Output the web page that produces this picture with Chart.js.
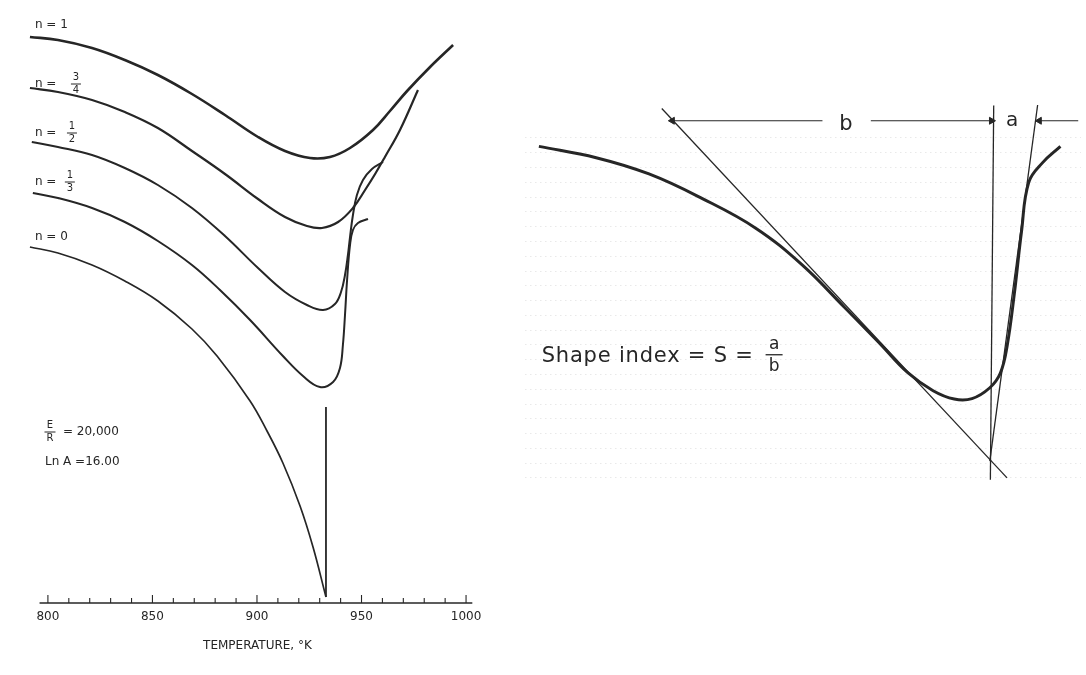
<!DOCTYPE html>
<html>
<head>
<meta charset="utf-8">
<script src="https://cdn.jsdelivr.net/npm/chart.js@4.4.1/dist/chart.umd.min.js"></script>
<style>
html, body { margin:0; padding:0; background:#fff; }
#wrap { position:relative; width:1086px; height:675px; overflow:hidden; background:#fff; }
#left { position:absolute; left:0; top:0; }
#right { position:absolute; left:520px; top:0; }
</style>
</head>
<body>
<div id="wrap">
  <canvas id="left" width="510" height="675"></canvas>
  <canvas id="right" width="566" height="675"></canvas>
</div>
<script>
// ---- left panel: DTA curves, temperature (K) vs deflection (arbitrary units)
const tempN1  = [791.4,804.8,821.1,836.8,852.6,868.9,884.7,900.5,913.4,925.4,934.9,944.5,955.5,963.6,971.8,982.8,993.8];
const defN1   = [56.6,56.3,55.5,54.3,52.8,50.9,48.8,46.6,45.2,44.5,44.6,45.5,47.3,49.2,51.2,53.6,55.8];

const tempN34 = [791.4,804.8,821.1,836.8,852.6,868.9,884.7,900.5,913.4,923.9,931.1,938.8,945.9,951.7,956.5,961.2,968.4,977.0];
const defN34  = [51.5,51.1,50.3,49.1,47.5,45.2,42.9,40.4,38.6,37.7,37.5,38.1,39.5,41.3,42.9,44.6,47.3,51.3];

const tempN12 = [792.3,804.8,821.1,836.8,852.6,868.9,884.7,900.5,913.4,923.9,931.6,937.3,940.2,942.1,943.5,944.5,945.9,947.8,950.7,955.0,960.3];
const defN12  = [46.1,45.6,44.8,43.5,41.8,39.5,36.7,33.5,31.1,29.8,29.3,29.9,31.1,32.8,34.8,36.6,38.8,40.8,42.3,43.4,44.1];

const tempN13 = [792.8,804.8,821.1,836.8,852.6,868.9,882.3,896.7,912.4,922.0,930.1,936.4,939.7,941.1,942.1,943.1,944.5,945.9,948.3,953.1];
const defN13  = [41.0,40.5,39.5,38.1,36.2,33.8,31.3,28.3,24.7,22.7,21.6,22.1,23.5,25.8,28.8,32.3,35.8,37.3,38.0,38.4];

const tempN0  = [791.4,804.8,821.1,836.8,852.6,868.9,880.9,896.7,904.8,912.4,920.6,926.8,933.0];
const defN0   = [35.6,35.0,33.8,32.2,30.2,27.4,24.7,20.2,17.2,14.0,9.7,5.6,0.6];
const tempJump = [933.0,933.0];
const defJump  = [0.6,19.6];

const tempTicks = [800,810,820,830,840,850,860,870,880,890,900,910,920,930,940,950,960,970,980,990,1000];
const axisSpan  = [796,1003];

// ---- right panel: shape index sketch (arbitrary units)
const curveX = [2.5,12.8,22.3,31.9,41.5,49.8,57.4,63.8,68.9,73.4,77.2,80.4,83.6,85.5,86.7,88.0,89.3,90.6,93.1,96.3];
const curveY = [71.3,69.0,65.7,60.7,54.7,47.3,38.7,31.3,25.3,21.7,20.0,20.1,22.3,25.3,30.7,41.3,54.0,64.0,68.0,71.3];
const tanLeftX  = [24.6,86.7],  tanLeftY  = [79.0,4.0];
const tanRightX = [92.2,83.6],  tanRightY = [79.7,7.4];
const vertX     = [84.3,83.7],  vertY     = [79.6,3.6];
const bLeftX  = [26.5,53.5], bRightX = [83.9,62.2], aArrowX = [92.5,99.5];
const dimY    = [76.5,76.5];

const INK = "#262626";
const FONT = "DejaVu Sans";

const pts = (xs, ys) => xs.map((x, i) => ({ x, y: ys[i] }));

function curve(label, xs, ys, w) {
  return { label, data: pts(xs, ys), borderColor: INK, borderWidth: w, pointRadius: 0,
           tension: 0.4, fill: false };
}

function text(ctx, s, px, py, size, align, spacing) {
  ctx.font = size + "px '" + FONT + "'";
  ctx.letterSpacing = (spacing || 0) + "px";
  ctx.textAlign = align || "left";
  ctx.textBaseline = "middle";
  ctx.fillText(s, px, py);
  ctx.letterSpacing = "0px";
}

function fraction(ctx, num, den, px, py, size, w) {
  text(ctx, num, px, py - size * 0.62, size, "center");
  text(ctx, den, px, py + size * 0.68, size, "center");
  ctx.beginPath(); ctx.moveTo(px - w / 2, py); ctx.lineTo(px + w / 2, py); ctx.stroke();
}

const curveLabels = [
  { text: "n = 1", x: 793.8, y: 57.8 },
  { text: "n =",   x: 793.8, y: 51.9, num: "3", den: "4", fx: 813.4 },
  { text: "n =",   x: 793.8, y: 47.0, num: "1", den: "2", fx: 811.5 },
  { text: "n =",   x: 793.8, y: 42.1, num: "1", den: "3", fx: 810.5 },
  { text: "n = 0", x: 793.8, y: 36.6 }
];

const leftDecor = {
  id: "leftDecor",
  afterDatasetsDraw(chart) {
    const { ctx, scales: { x, y } } = chart;
    const y0 = y.getPixelForValue(0);
    ctx.save();
    ctx.strokeStyle = INK; ctx.fillStyle = INK;
    ctx.lineWidth = 1.6;
    ctx.beginPath();
    ctx.moveTo(x.getPixelForValue(axisSpan[0]), y0);
    ctx.lineTo(x.getPixelForValue(axisSpan[1]), y0);
    ctx.stroke();
    ctx.lineWidth = 1.1;
    x.ticks.forEach(t => {
      const px = x.getPixelForValue(t.value);
      const len = t.value % 50 === 0 ? 8 : 5;
      ctx.beginPath(); ctx.moveTo(px, y0); ctx.lineTo(px, y0 - len); ctx.stroke();
    });

    ctx.lineWidth = 1;
    curveLabels.forEach(l => {
      text(ctx, l.text, x.getPixelForValue(l.x), y.getPixelForValue(l.y), 12);
      if (l.num) fraction(ctx, l.num, l.den, x.getPixelForValue(l.fx), y.getPixelForValue(l.y), 10, 10);
    });

    fraction(ctx, "E", "R", x.getPixelForValue(801.0), y.getPixelForValue(17.1), 10, 11);
    text(ctx, "= 20,000", x.getPixelForValue(807.2), y.getPixelForValue(17.1), 12);
    text(ctx, "Ln A =16.00", x.getPixelForValue(798.6), y.getPixelForValue(14.1), 12);
    ctx.restore();
  }
};

new Chart(document.getElementById("left"), {
  type: "line",
  data: { datasets: [
    curve("n = 1",   tempN1,  defN1,  2.6),
    curve("n = 3/4", tempN34, defN34, 2.2),
    curve("n = 1/2", tempN12, defN12, 2.0),
    curve("n = 1/3", tempN13, defN13, 2.0),
    curve("n = 0",   tempN0,  defN0,  1.7),
    { label: "n = 0 jump", data: pts(tempJump, defJump), borderColor: INK, borderWidth: 1.8, pointRadius: 0, tension: 0 }
  ]},
  options: {
    responsive: false, animation: false, events: [],
    layout: { padding: { left: 27, right: 33.5, top: 3, bottom: 0 } },
    plugins: { legend: { display: false }, tooltip: { enabled: false } },
    scales: {
      x: {
        type: "linear", min: 790, max: 1005,
        afterBuildTicks: s => { s.ticks = tempTicks.map(v => ({ value: v })); },
        afterFit: s => { s.height = 72; },
        grid: { display: false, drawTicks: false }, border: { display: false },
        ticks: { autoSkip: false, maxRotation: 0, padding: 7, color: INK,
                 font: { family: FONT, size: 12 }, callback: v => v % 50 === 0 ? v : "" },
        title: { display: true, text: "   TEMPERATURE, °K", color: INK,
                 font: { family: FONT, size: 12 }, padding: { top: 0, bottom: 22 } }
      },
      y: { display: false, min: 0, max: 60 }
    }
  },
  plugins: [leftDecor]
});

// ---- right panel
function straight(xs, ys, w, extra) {
  return Object.assign({ data: pts(xs, ys), borderColor: INK, borderWidth: w, pointRadius: 0, tension: 0 }, extra || {});
}
const arrowHead = (rot) => ({ pointStyle: "triangle", pointRadius: [4, 0], pointRotation: [rot, 0],
                              pointBackgroundColor: INK, pointBorderColor: INK, pointBorderWidth: 1 });

const rightDecor = {
  id: "rightDecor",
  afterDatasetsDraw(chart) {
    const { ctx, scales: { x, y } } = chart;
    ctx.save();
    ctx.fillStyle = INK; ctx.strokeStyle = INK; ctx.lineWidth = 1.3;
    text(ctx, "b", x.getPixelForValue(57.7), y.getPixelForValue(75.8), 21, "center");
    text(ctx, "a", x.getPixelForValue(87.6), y.getPixelForValue(76.4), 20, "center");
    text(ctx, "Shape index = S =", x.getPixelForValue(3.0), y.getPixelForValue(28.6), 21, "left", 0.8);
    fraction(ctx, "a", "b", x.getPixelForValue(44.8), y.getPixelForValue(29.0), 17, 17);
    ctx.restore();
  }
};

new Chart(document.getElementById("right"), {
  type: "line",
  data: { datasets: [
    { label: "curve", data: pts(curveX, curveY), borderColor: INK, borderWidth: 3, pointRadius: 0,
      tension: 0.4 },
    straight(tanLeftX, tanLeftY, 1.3),
    straight(tanRightX, tanRightY, 1.3),
    straight(vertX, vertY, 1.3),
    straight(bLeftX, dimY, 1.1, arrowHead(270)),
    straight(bRightX, dimY, 1.1, arrowHead(90)),
    straight(aArrowX, dimY, 1.1, arrowHead(270))
  ]},
  options: {
    responsive: false, animation: false, events: [],
    layout: { padding: 0 },
    plugins: { legend: { display: false }, tooltip: { enabled: false } },
    scales: {
      x: { type: "linear", display: false, min: 0, max: 100 },
      y: {
        type: "linear", min: -35, max: 100,
        afterFit: s => { s.width = 0; },
        ticks: { display: false, stepSize: 3 },
        border: { display: false, dash: [1.5, 3.5] },
        grid: { drawTicks: false, lineWidth: 1,
                color: c => (c.tick && c.tick.value > 1 && c.tick.value < 76) ? "#e9e9e9" : "rgba(0,0,0,0)" }
      }
    }
  },
  plugins: [rightDecor]
});
</script>
</body>
</html>
